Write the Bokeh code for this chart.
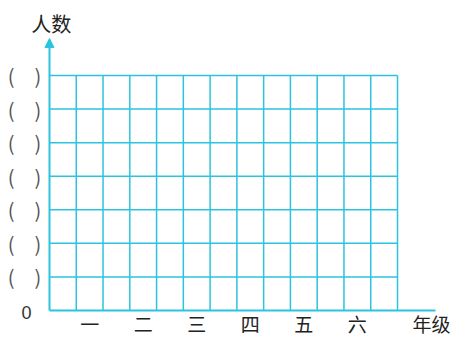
from bokeh.plotting import figure
from bokeh.models import Range1d, Arrow, NormalHead, ColumnDataSource
from bokeh.core.properties import value
from bokeh.embed import file_html
from bokeh.resources import INLINE

# ---- data (an empty tally chart to be filled in) ----
categories = ["一", "二", "三", "四", "五", "六"]
levels = [1, 2, 3, 4, 5, 6, 7]
level_labels = ["(\u3000)", "(\u3000)", "(\u3000)", "(\u3000)", "(\u3000)", "(\u3000)", "(\u3000)"]
zero_label = "0"
x_title = "年级"
y_title = "人数"

# ---- derived structure ----
n_cols = 2 * len(categories) + 1          # grid columns: each grade spans two
n_levels = len(levels)
cat_x = [2 * i + 1.5 for i in range(len(categories))]

GRID = "#2bc3df"
CJK = "Noto Sans CJK SC"

p = figure(width=454, height=337,
           x_range=Range1d(-1.830, 15.129), y_range=Range1d(-0.804, 9.234),
           output_backend="svg", toolbar_location=None,
           x_axis_location=None, y_axis_location=None,
           min_border=0, outline_line_color=None,
           background_fill_color="white", border_fill_color="white")
p.grid.visible = False

# horizontal grid lines
h = ColumnDataSource(dict(x0=[0] * n_levels, x1=[n_cols] * n_levels, y=levels))
p.segment(x0="x0", y0="y", x1="x1", y1="y", source=h, line_color=GRID, line_width=1.5)

# vertical grid lines
vx = list(range(1, n_cols + 1))
v = ColumnDataSource(dict(x=vx, y0=[0] * len(vx), y1=[n_levels] * len(vx)))
p.segment(x0="x", y0="y0", x1="x", y1="y1", source=v, line_color=GRID, line_width=1.5)

# axes
p.segment(x0=[0], y0=[0], x1=[n_cols + 1.42], y1=[0], line_color=GRID, line_width=2)
p.add_layout(Arrow(end=NormalHead(size=9, fill_color=GRID, line_color=GRID, line_width=1),
                   x_start=0, y_start=0, x_end=0, y_end=n_levels + 1.1,
                   line_color=GRID, line_width=2))

# category labels
p.text(x=cat_x, y=[-0.39] * len(categories), text=categories,
       text_font=value(CJK), text_font_size="19px", text_color="#222222",
       text_align="center", text_baseline="middle")

# level placeholders
p.text(x=[-0.934] * n_levels, y=levels, text=level_labels,
       text_font=value(CJK), text_font_size="20px", text_color="#555555",
       text_align="center", text_baseline="middle")

p.text(x=[-0.859], y=[-0.074], text=[zero_label],
       text_font=value("Liberation Sans"), text_font_size="18px", text_color="#333333",
       text_align="center", text_baseline="middle")

# titles
p.text(x=[14.27], y=[-0.39], text=[x_title],
       text_font=value(CJK), text_font_size="19px", text_color="#222222",
       text_align="center", text_baseline="middle")
p.text(x=[0.07], y=[8.55], text=[y_title],
       text_font=value(CJK), text_font_size="20px", text_color="#222222",
       text_align="center", text_baseline="middle")

open("out.html", "w").write(file_html(p, INLINE))
